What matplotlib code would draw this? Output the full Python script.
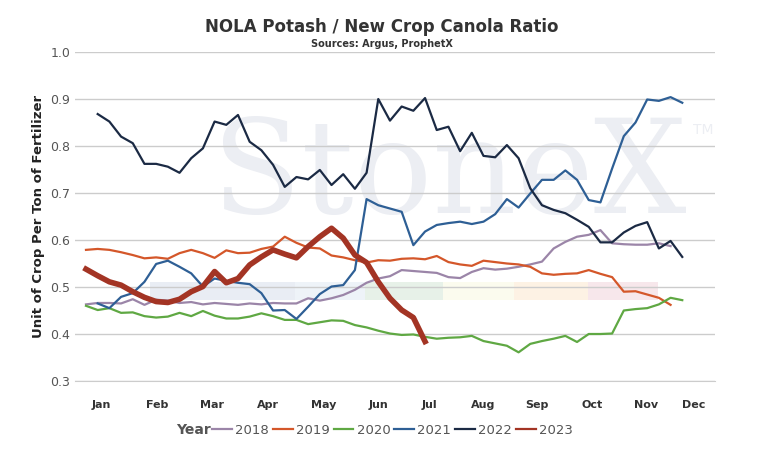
import numpy as np
import matplotlib.pyplot as plt
from matplotlib.patches import Rectangle
from matplotlib.lines import Line2D

# weekly ratio by year (index = week position)
y2018 = [0.463, 0.466, 0.466, 0.465, 0.474, 0.462, 0.473, 0.471, 0.466, 0.468, 0.463, 0.466, 0.464,
         0.462, 0.465, 0.463, 0.466, 0.465, 0.465, 0.476, 0.471, 0.476, 0.483, 0.494, 0.509, 0.518,
         0.523, 0.536, 0.534, 0.532, 0.530, 0.521, 0.519, 0.532, 0.540, 0.537, 0.539, 0.543, 0.548,
         0.554, 0.582, 0.596, 0.607, 0.611, 0.621, 0.593, 0.591, 0.590, 0.590, 0.593, 0.587]
y2019 = [0.579, 0.581, 0.579, 0.574, 0.568, 0.561, 0.563, 0.560, 0.572, 0.579, 0.572, 0.562, 0.578,
         0.572, 0.573, 0.581, 0.586, 0.607, 0.594, 0.584, 0.582, 0.567, 0.563, 0.557, 0.552, 0.557,
         0.556, 0.560, 0.561, 0.559, 0.566, 0.553, 0.548, 0.545, 0.556, 0.553, 0.550, 0.548, 0.543,
         0.529, 0.526, 0.528, 0.529, 0.536, 0.528, 0.521, 0.490, 0.491, 0.484, 0.477, 0.462]
y2020 = [0.460, 0.451, 0.455, 0.445, 0.446, 0.438, 0.435, 0.437, 0.445, 0.438, 0.449, 0.439, 0.433,
         0.433, 0.437, 0.444, 0.438, 0.430, 0.430, 0.421, 0.425, 0.429, 0.428, 0.419, 0.414, 0.407,
         0.401, 0.398, 0.399, 0.394, 0.390, 0.392, 0.393, 0.396, 0.385, 0.380, 0.375, 0.361, 0.379,
         0.385, 0.390, 0.396, 0.383, 0.400, 0.400, 0.401, 0.450, 0.453, 0.455, 0.463, 0.477, 0.472]
y2021 = [0.465, 0.455, 0.479, 0.487, 0.511, 0.549, 0.556, 0.543, 0.529, 0.501, 0.518, 0.513, 0.509,
         0.506, 0.487, 0.450, 0.451, 0.432, 0.458, 0.485, 0.501, 0.504, 0.536, 0.687, 0.674, 0.667,
         0.660, 0.589, 0.618, 0.632, 0.636, 0.639, 0.634, 0.639, 0.655, 0.687, 0.669, 0.699, 0.728,
         0.728, 0.748, 0.728, 0.685, 0.680, 0.752, 0.821, 0.850, 0.899, 0.896, 0.904, 0.892]
y2022 = [0.868, 0.852, 0.820, 0.806, 0.762, 0.762, 0.756, 0.743, 0.774, 0.795, 0.852, 0.845, 0.866,
         0.809, 0.791, 0.760, 0.713, 0.734, 0.729, 0.749, 0.717, 0.740, 0.709, 0.743, 0.900, 0.854,
         0.884, 0.875, 0.902, 0.834, 0.841, 0.789, 0.828, 0.779, 0.776, 0.802, 0.774, 0.710, 0.674,
         0.664, 0.657, 0.643, 0.628, 0.595, 0.595, 0.616, 0.630, 0.638, 0.582, 0.598, 0.564]
y2023 = [0.538, 0.524, 0.511, 0.504, 0.490, 0.478, 0.469, 0.467, 0.474, 0.490, 0.501, 0.533, 0.509,
         0.518, 0.547, 0.564, 0.579, 0.570, 0.562, 0.586, 0.607, 0.625, 0.604, 0.568, 0.552, 0.511,
         0.476, 0.451, 0.435, 0.384]
series = [("2018", y2018, 0, "#9b85a8", 1.6), ("2019", y2019, 0, "#d4572a", 1.6),
          ("2020", y2020, 0, "#5fa843", 1.6), ("2021", y2021, 1, "#2e5f95", 1.6),
          ("2022", y2022, 1, "#1b2a44", 1.6), ("2023", y2023, 0, "#a33424", 4.0)]

months = ["Jan", "Feb", "Mar", "Apr", "May", "Jun", "Jul", "Aug", "Sep", "Oct", "Nov", "Dec"]
month_pos = [1.3, 6.1, 10.8, 15.6, 20.3, 25.0, 29.4, 34.0, 38.6, 43.3, 47.9, 52.0]
band_edges = [5.5, 17.9, 23.9, 30.5, 36.6, 42.9, 48.9]
band_colors = ["#e9edf4", "#eef3f8", "#e7f1e8", "#fbfbee", "#fdf2e4", "#f7e7eb"]

fig = plt.figure(figsize=(7.63, 4.51), dpi=100)
ax = fig.add_axes([75 / 763, 70 / 451, 640 / 763, 329 / 451])
ax.set_xlim(-0.94, 53.8)
ax.set_ylim(0.3, 1.0)

ax.text(0.585, 0.62, "StoneX", transform=ax.transAxes, ha="center", va="center",
        fontsize=94, family="DejaVu Serif", color="#eceef3", zorder=0)
ax.text(0.965, 0.75, "TM", transform=ax.transAxes, fontsize=10, color="#eceef3", zorder=0)

for i, c in enumerate(band_colors):
    ax.add_patch(Rectangle((band_edges[i], 0.472), band_edges[i + 1] - band_edges[i], 0.038,
                           color=c, lw=0, zorder=0.5))

handles = []
for name, vals, start, col, lw in series:
    x = np.arange(start, start + len(vals))
    ax.plot(x, vals, color=col, lw=lw, zorder=3 if name == "2023" else 2)
    handles.append(Line2D([], [], color=col, lw=1.6, label=name))

ax.set_yticks(np.arange(0.3, 1.01, 0.1))
ax.set_yticklabels([f"{v:.1f}" for v in np.arange(0.3, 1.01, 0.1)], color="#555555", fontsize=9)
ax.grid(axis="y", color="#cccccc", lw=1)
ax.set_xticks(month_pos)
ax.set_xticklabels(months, fontsize=8, fontweight="bold", color="#333333")
ax.tick_params(length=0)
ax.tick_params(axis="x", pad=14)
for s in ["top", "right", "left"]:
    ax.spines[s].set_visible(False)
ax.spines["bottom"].set_color("#cccccc")
ax.set_ylabel("Unit of Crop Per Ton of Fertilizer", fontsize=9.5, fontweight="bold", color="#222222")

fig.text(0.5, 0.93, "NOLA Potash / New Crop Canola Ratio", ha="center", fontsize=12,
         fontweight="bold", color="#333333")
fig.text(0.5, 0.895, "Sources: Argus, ProphetX", ha="center", fontsize=7, fontweight="bold",
         color="#333333")

fig.text(176 / 763, 0.046, "Year", ha="left", va="center", fontsize=10, fontweight="bold",
         color="#555555")
leg = fig.legend(handles=handles, loc="center left", bbox_to_anchor=(212 / 763, 0.046), ncol=6,
                 frameon=False, fontsize=9.5, handlelength=1.5, handletextpad=0.25,
                 columnspacing=0.3, borderpad=0, borderaxespad=0)
for t in leg.get_texts():
    t.set_color("#555555")

fig.savefig("out.png", dpi=100)
